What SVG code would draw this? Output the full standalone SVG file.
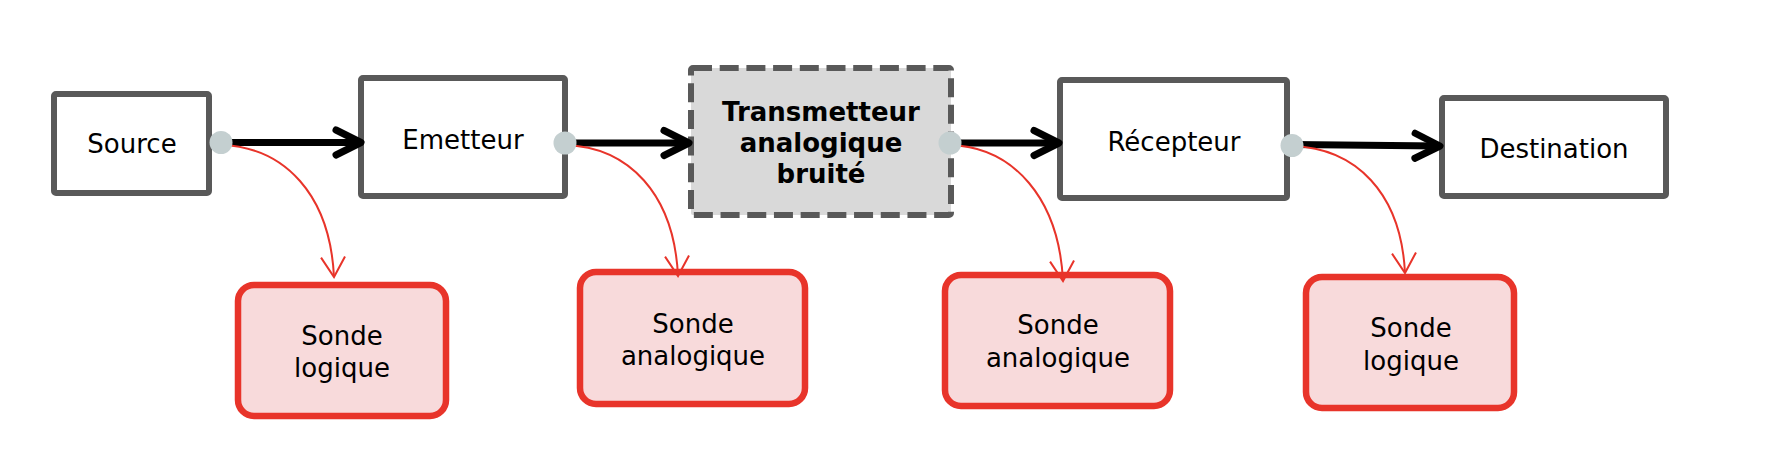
<svg xmlns="http://www.w3.org/2000/svg" width="1776" height="462" viewBox="0 0 1776 462">
  <style>
    .box { fill: #ffffff; stroke: #595959; stroke-width: 6; }
    .noisy { fill: #d9d9d9; stroke: #595959; stroke-width: 6; stroke-dasharray: 19 7.7; }
    .probe { fill: #f8dadb; stroke: #e8342a; stroke-width: 6.5; }
    .lbl { font-family: "DejaVu Sans", Verdana, sans-serif; font-size: 26px; fill: #000000; text-anchor: middle; }
    .bold { font-weight: bold; }
    .flow { fill: none; stroke: #000000; stroke-width: 7; }
    .probeLink { fill: none; stroke: #e8342a; stroke-width: 2; }
    .port { fill: #c4cfd0; }
  </style>
  <defs>
    <marker id="chev" markerUnits="userSpaceOnUse" viewBox="-32 -20 40 40" refX="0" refY="0" markerWidth="40" markerHeight="40" orient="auto" overflow="visible">
      <path d="M-25,-12.5 L0,0 L-25,12.5" fill="none" stroke="#000000" stroke-width="7" stroke-linecap="round" stroke-linejoin="round"/>
    </marker>
    <marker id="vee" markerUnits="userSpaceOnUse" viewBox="-25 -15 30 30" refX="0" refY="0" markerWidth="30" markerHeight="30" orient="auto" overflow="visible">
      <path d="M-20,-12 L0,0 L-20,12" fill="none" stroke="#e8342a" stroke-width="2"/>
    </marker>
  </defs>

  <g id="source">
    <rect class="box" x="54" y="94" width="155" height="99" rx="2"/>
    <text class="lbl" x="132" y="153">Source</text>
  </g>
  <g id="emetteur">
    <rect class="box" x="361" y="78" width="204" height="118" rx="2"/>
    <text class="lbl" x="463" y="149">Emetteur</text>
  </g>
  <g id="transmetteur">
    <rect class="noisy" x="691" y="68" width="260" height="147" rx="2"/>
    <text class="lbl bold" x="821" y="121">Transmetteur</text>
    <text class="lbl bold" x="821" y="152">analogique</text>
    <text class="lbl bold" x="821" y="183">bruité</text>
  </g>
  <g id="recepteur">
    <rect class="box" x="1060" y="80" width="227" height="118" rx="2"/>
    <text class="lbl" x="1174" y="151">Récepteur</text>
  </g>
  <g id="destination">
    <rect class="box" x="1442" y="98" width="224" height="98" rx="2"/>
    <text class="lbl" x="1554" y="158">Destination</text>
  </g>

  <g id="sonde-logique-1">
    <rect class="probe" x="238" y="285" width="208" height="131" rx="16"/>
    <text class="lbl" x="342" y="345">Sonde</text>
    <text class="lbl" x="342" y="377">logique</text>
  </g>
  <g id="sonde-analogique-1">
    <rect class="probe" x="580" y="272" width="225" height="132" rx="16"/>
    <text class="lbl" x="693" y="333">Sonde</text>
    <text class="lbl" x="693" y="365">analogique</text>
  </g>
  <g id="sonde-analogique-2">
    <rect class="probe" x="945" y="275" width="225" height="131" rx="16"/>
    <text class="lbl" x="1058" y="334">Sonde</text>
    <text class="lbl" x="1058" y="367">analogique</text>
  </g>
  <g id="sonde-logique-2">
    <rect class="probe" x="1306" y="277" width="208" height="131" rx="16"/>
    <text class="lbl" x="1411" y="337">Sonde</text>
    <text class="lbl" x="1411" y="370">logique</text>
  </g>

  <g id="connectors">
    <line class="flow" x1="221" y1="142.5" x2="361" y2="142.5" marker-end="url(#chev)"/>
    <line class="flow" x1="565" y1="143" x2="689" y2="143" marker-end="url(#chev)"/>
    <line class="flow" x1="951" y1="143" x2="1059" y2="143" marker-end="url(#chev)"/>
    <line class="flow" x1="1292" y1="144.5" x2="1440" y2="146" marker-end="url(#chev)"/>
    <path class="probeLink" d="M221,145 C285,147 330,195 334,277" marker-end="url(#vee)"/>
    <path class="probeLink" d="M565,145 C629,147 674,194 678,276" marker-end="url(#vee)"/>
    <path class="probeLink" d="M950,145 C1014,147 1059,199 1063,281" marker-end="url(#vee)"/>
    <path class="probeLink" d="M1292,146 C1356,148 1401,193 1405,273" marker-end="url(#vee)"/>
  </g>

  <g id="ports">
    <ellipse class="port" cx="221" cy="142.5" rx="11.5" ry="11.5"/>
    <ellipse class="port" cx="565" cy="143" rx="11.5" ry="11.5"/>
    <ellipse class="port" cx="950" cy="143" rx="11.5" ry="11.5"/>
    <ellipse class="port" cx="1292" cy="145.5" rx="11.5" ry="11.5"/>
  </g>
</svg>
